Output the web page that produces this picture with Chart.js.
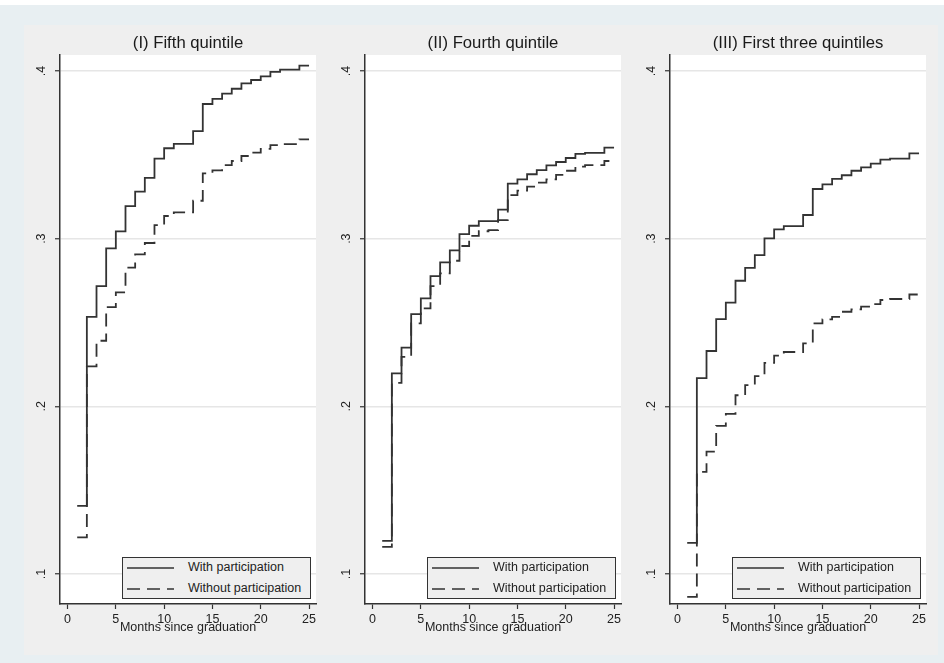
<!DOCTYPE html>
<html>
<head>
<meta charset="utf-8">
<script src="https://cdn.jsdelivr.net/npm/chart.js@4.4.0/dist/chart.umd.min.js"></script>
<style>
  html, body { margin: 0; padding: 0; background: #fff; overflow: hidden; width: 944px; height: 663px; }
  #outer { position: absolute; left: 0; top: 5px; width: 944px; height: 658px; background: #e8eff2; }
  #inner { position: absolute; left: 24px; top: 20px; width: 914px; height: 630px; background: #efefef; }
  canvas { position: absolute; top: 20px; }
  .legend { position: absolute; top: 557px; width: 187px; height: 40px; border: 1px solid #333;
            background: #efefef; font: 12.5px "Liberation Sans", Arial, sans-serif; color: #222; }
  .legend .row { position: absolute; left: 0; width: 187px; height: 20px; }
  .legend svg { position: absolute; left: 4px; top: 8px; }
  .legend span { position: absolute; left: 65px; top: 2px; white-space: nowrap; }
</style>
</head>
<body>
<div id="outer"><div id="inner"></div></div>
<canvas id="c1" width="296" height="620"></canvas>
<canvas id="c2" width="296" height="620"></canvas>
<canvas id="c3" width="296" height="620"></canvas>
<script>
const months = [1, 2, 3, 4, 5, 6, 7, 8, 9, 10, 11, 12, 13, 14, 15, 16, 17, 18, 19, 20, 21, 22, 23, 24, 25];
const xTicks = [0, 5, 10, 15, 20, 25];
const yTicks = [0.1, 0.2, 0.3, 0.4];
const yTickLabels = ['.1', '.2', '.3', '.4'];
const seriesLabels = ['With participation', 'Without participation'];
const panelTitles = ['(I) Fifth quintile', '(II) Fourth quintile', '(III) First three quintiles'];
const xTitle = 'Months since graduation';

const fifthWith = [0.1406, 0.2534, 0.2717, 0.2942, 0.3043, 0.3194, 0.3280, 0.3363, 0.3477, 0.3539, 0.3565, 0.3565, 0.3641,
    0.3803, 0.3833, 0.3865, 0.3894, 0.3926, 0.3946, 0.3968, 0.3994, 0.4008, 0.4008, 0.4032, 0.4032];
const fifthWithout = [0.1218, 0.2238, 0.2391, 0.2592, 0.2680, 0.2827, 0.2906, 0.2974, 0.3081, 0.3135, 0.3157, 0.3157, 0.3226,
    0.3389, 0.3407, 0.3439, 0.3463, 0.3493, 0.3513, 0.3535, 0.3558, 0.3564, 0.3564, 0.3592, 0.3592];
const fourthWith = [0.1198, 0.2196, 0.2350, 0.2550, 0.2644, 0.2777, 0.2859, 0.2930, 0.3027, 0.3077, 0.3105, 0.3105, 0.3173,
    0.3328, 0.3354, 0.3384, 0.3409, 0.3437, 0.3457, 0.3481, 0.3505, 0.3511, 0.3511, 0.3543, 0.3543];
const fourthWithout = [0.1162, 0.2140, 0.2295, 0.2495, 0.2584, 0.2717, 0.2793, 0.2868, 0.2956, 0.3016, 0.3044, 0.3051, 0.3111,
    0.3260, 0.3286, 0.3310, 0.3334, 0.3354, 0.3380, 0.3405, 0.3429, 0.3439, 0.3439, 0.3463, 0.3463];
const firstThreeWith = [0.1186, 0.2168, 0.2330, 0.2520, 0.2618, 0.2749, 0.2826, 0.2902, 0.3002, 0.3055, 0.3075, 0.3075, 0.3141,
    0.3296, 0.3324, 0.3356, 0.3378, 0.3405, 0.3425, 0.3447, 0.3471, 0.3477, 0.3477, 0.3509, 0.3509];
const firstThreeWithout = [0.0863, 0.1609, 0.1730, 0.1883, 0.1955, 0.2066, 0.2126, 0.2180, 0.2259, 0.2302, 0.2324, 0.2324, 0.2375,
    0.2495, 0.2519, 0.2534, 0.2564, 0.2578, 0.2594, 0.2610, 0.2634, 0.2640, 0.2640, 0.2667, 0.2667];

const FONT = '"Liberation Sans", Arial, sans-serif';
const INK = '#333';
const plotLeft = [60, 365, 670];

// white plot region, like stata's plotregion
const plotBg = {
    id: 'plotBg',
    beforeDraw(chart) {
        const a = chart.chartArea;
        chart.ctx.save();
        chart.ctx.fillStyle = '#ffffff';
        chart.ctx.fillRect(a.left, a.top, a.right - a.left, a.bottom - a.top);
        chart.ctx.restore();
    }
};

function toPoints(vals) {
    return months.map((m, i) => ({ x: m, y: vals[i] }));
}

function makeLegend(left) {
    const box = document.createElement('div');
    box.className = 'legend';
    box.style.left = left + 'px';
    seriesLabels.forEach((lab, i) => {
        const row = document.createElement('div');
        row.className = 'row';
        row.style.top = (i * 21) + 'px';
        const dash = i === 1 ? ' stroke-dasharray="13 7"' : '';
        row.innerHTML = '<svg width="48" height="4"><line x1="0" y1="2" x2="47" y2="2" stroke="' + INK +
            '" stroke-width="1.6"' + dash + '/></svg><span>' + lab + '</span>';
        box.appendChild(row);
    });
    document.body.appendChild(box);
}

function makePanel(idx, withVals, withoutVals) {
    const canvas = document.getElementById('c' + (idx + 1));
    canvas.style.left = (plotLeft[idx] - 36) + 'px';

    const config = {
        type: 'line',
        data: {
            datasets: [
                {
                    label: seriesLabels[0],
                    data: toPoints(withVals),
                    borderColor: INK,
                    borderWidth: 1.8,
                    stepped: 'before',
                    pointRadius: 0,
                    fill: false,
                },
                {
                    label: seriesLabels[1],
                    data: toPoints(withoutVals),
                    borderColor: INK,
                    borderWidth: 1.8,
                    borderDash: [13, 7],
                    stepped: 'before',
                    pointRadius: 0,
                    fill: false,
                }
            ]
        },
        options: {
            responsive: false,
            animation: false,
            layout: { padding: { left: 0, right: 4, top: 0, bottom: 4.8 } },
            plugins: {
                legend: { display: false },
                tooltip: { enabled: false },
                title: {
                    display: true,
                    fullSize: false,
                    text: panelTitles[idx],
                    color: '#1a1a1a',
                    font: { family: FONT, size: 16.7, weight: 'normal', lineHeight: 1.2 },
                    padding: { top: 13.5, bottom: 1.5 }
                }
            },
            scales: {
                x: {
                    type: 'linear',
                    min: -0.78,
                    max: 25.72,
                    afterBuildTicks: s => { s.ticks = xTicks.map(v => ({ value: v })); },
                    afterFit: s => { s.height = 31.2; },
                    grid: { drawOnChartArea: false, drawTicks: true, tickLength: 5, tickColor: INK, tickWidth: 1.2 },
                    border: { display: true, color: INK, width: 1.5 },
                    ticks: { padding: 3, color: '#222', maxRotation: 0, autoSkip: false,
                             font: { family: FONT, size: 12.5, lineHeight: 1.2 } },
                    title: { display: true, text: xTitle, color: '#222', padding: 0,
                             font: { family: FONT, size: 12.5, lineHeight: 1.2 } }
                },
                y: {
                    type: 'linear',
                    min: 0.0821,
                    max: 0.4095,
                    afterBuildTicks: s => { s.ticks = yTicks.map(v => ({ value: v })); },
                    afterFit: s => { s.width = 36; },
                    grid: { color: '#e6e6e6', lineWidth: 1.5, tickLength: 5, tickColor: INK, tickWidth: 1.2 },
                    border: { display: true, color: INK, width: 1.5 },
                    ticks: {
                        minRotation: 90, maxRotation: 90, crossAlign: 'center', padding: 7.8,
                        color: '#222', font: { family: FONT, size: 12.5 },
                        callback: (v, i) => yTickLabels[i]
                    }
                }
            }
        },
        plugins: [plotBg]
    };
    new Chart(canvas, config);
    makeLegend(plotLeft[idx] + 256 - 5 - 189);
}

makePanel(0, fifthWith, fifthWithout);
makePanel(1, fourthWith, fourthWithout);
makePanel(2, firstThreeWith, firstThreeWithout);
</script>
</body>
</html>
